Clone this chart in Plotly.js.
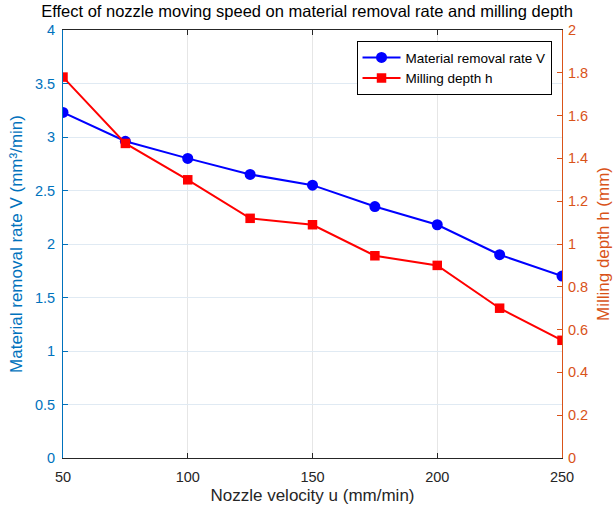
<!DOCTYPE html>
<html>
<head>
<meta charset="utf-8">
<script src="https://cdn.plot.ly/plotly-3.0.1.min.js"></script>
<style>body{margin:0;background:#fff}#chart{width:614px;height:509px}</style>
</head>
<body>
<div id="chart"></div>
<script>
const velocity = [50, 75, 100, 125, 150, 175, 200, 225, 250];
const removalRate = [3.23, 2.96, 2.80, 2.65, 2.55, 2.35, 2.18, 1.90, 1.70];
const millingDepth = [1.78, 1.47, 1.30, 1.12, 1.09, 0.945, 0.90, 0.70, 0.55];
const xTicks = [50, 100, 150, 200, 250];
const leftTicks = [0, 0.5, 1, 1.5, 2, 2.5, 3, 3.5, 4];
const rightTicks = [0, 0.2, 0.4, 0.6, 0.8, 1, 1.2, 1.4, 1.6, 1.8, 2];

const blue = '#0072BD', orange = '#D95319';
const font = 'Liberation Sans, Arial, sans-serif';

const traces = [
  {x: velocity, y: removalRate, name: 'Material removal rate V', mode: 'lines+markers',
   line: {color: '#0000FF', width: 2}, marker: {symbol: 'circle', size: 11, color: '#0000FF'}, yaxis: 'y'},
  {x: velocity, y: millingDepth, name: 'Milling depth h', mode: 'lines+markers',
   line: {color: '#FF0000', width: 2}, marker: {symbol: 'square', size: 9.5, color: '#FF0000'}, yaxis: 'y2'}
];

const layout = {
  width: 614, height: 509,
  margin: {l: 63, r: 52, t: 30, b: 51},
  paper_bgcolor: '#fff', plot_bgcolor: '#fff',
  font: {family: font, size: 14.5, color: '#262626'},
  title: {text: 'Effect of nozzle moving speed on material removal rate and milling depth',
          font: {size: 16.5, color: '#000'}, x: 0.5, xanchor: 'center', y: 0.978, yanchor: 'middle'},
  showlegend: true,
  legend: {x: 0.979, xanchor: 'right', y: 0.974, yanchor: 'top', bgcolor: '#fff',
           bordercolor: '#000', borderwidth: 1, font: {size: 13.5, color: '#000'},
           tracegroupgap: 0, itemwidth: 38},
  xaxis: {range: [50, 250], tickvals: xTicks, ticks: 'inside', ticklen: 5, tickcolor: '#262626',
          showline: true, linecolor: '#262626', linewidth: 1, mirror: 'ticks',
          showgrid: true, gridcolor: '#e6e6e6', zeroline: false, ticklabelstandoff: 6,
          tickfont: {size: 14.5, color: '#262626'},
          title: {text: 'Nozzle velocity u (mm/min)', font: {size: 17, color: '#262626'}, standoff: 4}},
  yaxis: {range: [0, 4], tickvals: leftTicks, ticks: 'inside', ticklen: 5, tickcolor: blue,
          showline: true, linecolor: blue, linewidth: 1, ticklabelstandoff: 4,
          showgrid: true, gridcolor: '#e0eaf3', zeroline: false,
          tickfont: {size: 14.5, color: blue},
          title: {text: 'Material removal rate V (mm³/min)', font: {size: 17, color: blue}, standoff: 7}},
  yaxis2: {range: [0, 2], tickvals: rightTicks, overlaying: 'y', side: 'right', anchor: 'x',
           ticks: 'inside', ticklen: 5, tickcolor: orange, ticklabelstandoff: 2,
           showline: true, linecolor: orange, linewidth: 1, showgrid: false, zeroline: false,
           tickfont: {size: 14.5, color: orange},
           title: {text: 'Milling depth h (mm)', font: {size: 17, color: orange}, standoff: 10}}
};

Plotly.newPlot('chart', traces, layout, {displayModeBar: false, staticPlot: true});
</script>
</body>
</html>
